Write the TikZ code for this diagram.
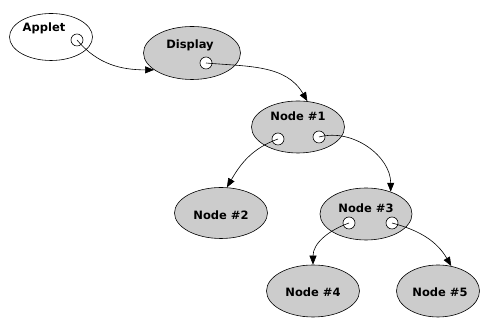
\documentclass[tikz,border=0pt]{standalone}
\usepackage{fontspec}
\setmainfont{DejaVu Sans}
\usetikzlibrary{shapes.geometric,arrows.meta}

\begin{document}
\begin{tikzpicture}[x=1pt,y=1pt,
        obj/.style={ellipse,draw,line width=0.6pt,inner sep=0pt,minimum width=93pt,minimum height=52pt},
        shaded/.style={obj,fill=gray!40},
        port/.style={circle,draw,fill=white,line width=0.6pt,inner sep=0pt,minimum size=12pt},
        lbl/.style={font=\bfseries\fontsize{11.5}{12}\selectfont,inner sep=0pt},
        ref/.style={-{Triangle[length=9pt,width=7pt]},line width=0.6pt}]
            \useasboundingbox (0,0) rectangle (482,320);
            \node[obj,minimum width=83pt,minimum height=47pt] (applet) at (51,283) {};
            \node[shaded,minimum width=97pt,minimum height=53pt] (disp) at (192,267) {};
            \node[shaded] (n1) at (298,193) {};
            \node[shaded,minimum height=51pt] (n2) at (221,107) {};
            \node[shaded,minimum width=92pt] (n3) at (366,106) {};
            \node[shaded] (n4) at (313,29) {};
            \node[shaded,minimum width=83pt] (n5) at (438,29) {};
            \node[lbl] (appletT) at (44,292) {Applet};
            \node[lbl] (dispT) at (190,275) {Display};
            \node[lbl] (n1T) at (298,204) {Node \#1};
            \node[lbl] (n2T) at (221,105) {Node \#2};
            \node[lbl] (n3T) at (366,112) {Node \#3};
            \node[lbl] (n4T) at (313,28) {Node \#4};
            \node[lbl] (n5T) at (440,28) {Node \#5};
            \node[port] (appletP) at (77,280) {};
            \node[port] (dispP) at (206,257) {};
            \node[port] (n1L) at (278,181) {};
            \node[port] (n1R) at (319,183) {};
            \node[port] (n3L) at (349,97) {};
            \node[port] (n3R) at (392,97) {};
            \draw[ref] (appletP.center) to[out=-50,in=180] (disp.204);
            \draw[ref] (dispP.center) to[out=-5,in=120] (n1.70);
            \draw[ref] (n1L.center) to[out=200,in=60] (n2.77);
            \draw[ref] (n1R.center) to[out=15,in=90] (n3.42);
            \draw[ref] (n3L.center) to[out=200,in=90] (n4.90);
            \draw[ref] (n3R.center) to[out=-15,in=120] (n5.62);
        \end{tikzpicture}
\end{document}
